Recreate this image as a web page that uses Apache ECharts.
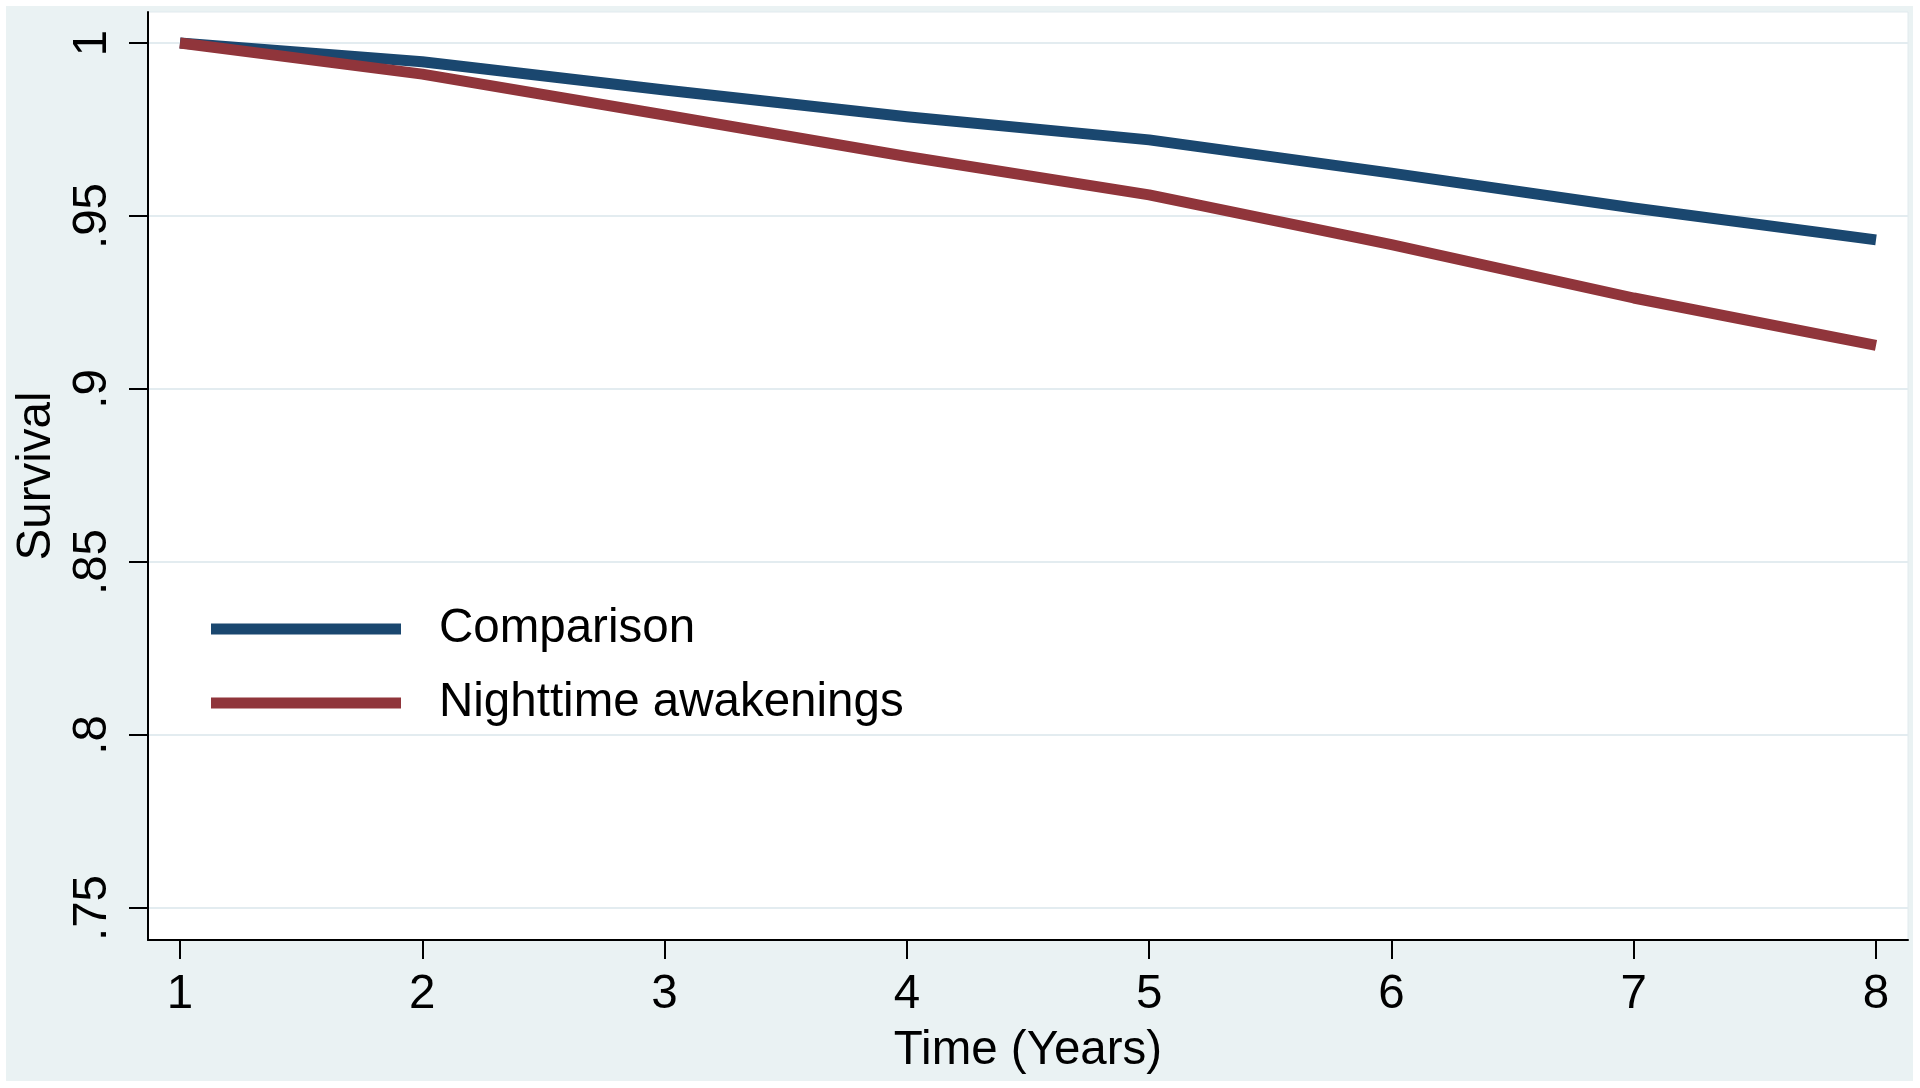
<!DOCTYPE html>
<html>
<head>
<meta charset="utf-8">
<script src="https://cdn.jsdelivr.net/npm/echarts@6/dist/echarts.min.js"></script>
<style>
html,body{margin:0;padding:0;background:#ffffff;}
#chart{width:1920px;height:1088px;}
</style>
</head>
<body>
<div id="chart"></div>
<script>
const years = [1, 2, 3, 4, 5, 6, 7, 8];
const comparison = [1.0, 0.9946, 0.9864, 0.9787, 0.9720, 0.9624, 0.9523, 0.9431];
const nighttime = [1.0, 0.9910, 0.9792, 0.9672, 0.9561, 0.9417, 0.9263, 0.9126];
const xTicks = [1, 2, 3, 4, 5, 6, 7, 8];
const yTicks = [0.75, 0.8, 0.85, 0.9, 0.95, 1];
const seriesNames = ['Comparison', 'Nighttime awakenings'];
const seriesColors = ['#1a476f', '#90353b'];

const FONT = '"Liberation Sans", Arial, Helvetica, sans-serif';
const FS = 47.5;
const chart = echarts.init(document.getElementById('chart'), null, {renderer: 'canvas'});

function fmtY(v) {
  if (v === 1) return '1';
  return String(v).replace(/^0/, '');
}

const option = {
  backgroundColor: '#ffffff',
  animation: false,
  graphic: [{
    type: 'rect',
    z: -100,
    shape: {x: 6, y: 6, width: 1907, height: 1075},
    style: {fill: '#eaf2f3'}
  }],
  grid: {
    left: 148, top: 12, right: 12, bottom: 148,
    show: true,
    backgroundColor: '#ffffff',
    borderColor: '#e1eaee',
    borderWidth: 1
  },
  legend: {
    orient: 'vertical',
    left: 206,
    top: 600,
    icon: 'rect',
    itemWidth: 190,
    itemHeight: 11,
    itemGap: 26,
    data: seriesNames,
    textStyle: {
      fontFamily: FONT,
      fontSize: FS,
      color: '#000000',
      padding: [0, 0, 0, 33]
    }
  },
  xAxis: {
    type: 'value',
    min: 0.868,
    max: 8.132,
    name: 'Time (Years)',
    nameLocation: 'middle',
    nameGap: 87,
    nameTextStyle: {fontFamily: FONT, fontSize: FS, color: '#000000'},
    axisLine: {show: true, onZero: false, lineStyle: {color: '#000000', width: 2}},
    axisTick: {show: true, length: 19, lineStyle: {color: '#000000', width: 2}, customValues: xTicks},
    axisLabel: {
      customValues: xTicks,
      margin: 31,
      fontFamily: FONT, fontSize: FS, color: '#000000',
      formatter: v => String(v)
    },
    splitLine: {show: false}
  },
  yAxis: {
    type: 'value',
    min: 0.74075,
    max: 1.00896,
    name: 'Survival',
    nameLocation: 'middle',
    nameGap: 87,
    nameTextStyle: {fontFamily: FONT, fontSize: FS, color: '#000000'},
    axisLine: {show: true, onZero: false, lineStyle: {color: '#000000', width: 2}},
    axisTick: {show: true, length: 19, lineStyle: {color: '#000000', width: 2}, customValues: yTicks},
    axisLabel: {
      customValues: yTicks,
      rotate: 90,
      margin: 31,
      fontFamily: FONT, fontSize: FS, color: '#000000',
      formatter: fmtY
    },
    splitLine: {show: true, lineStyle: {color: '#e3ecf0', width: 2}}
  },
  series: [
    {
      name: seriesNames[0],
      type: 'line',
      data: years.map((x, i) => [x, comparison[i]]),
      showSymbol: false,
      symbol: 'none',
      color: seriesColors[0],
      lineStyle: {width: 11, color: seriesColors[0], cap: 'butt', join: 'round'},
      z: 3
    },
    {
      name: seriesNames[1],
      type: 'line',
      data: years.map((x, i) => [x, nighttime[i]]),
      showSymbol: false,
      symbol: 'none',
      color: seriesColors[1],
      lineStyle: {width: 11, color: seriesColors[1], cap: 'butt', join: 'round'},
      z: 4
    }
  ]
};
chart.setOption(option);
</script>
</body>
</html>
